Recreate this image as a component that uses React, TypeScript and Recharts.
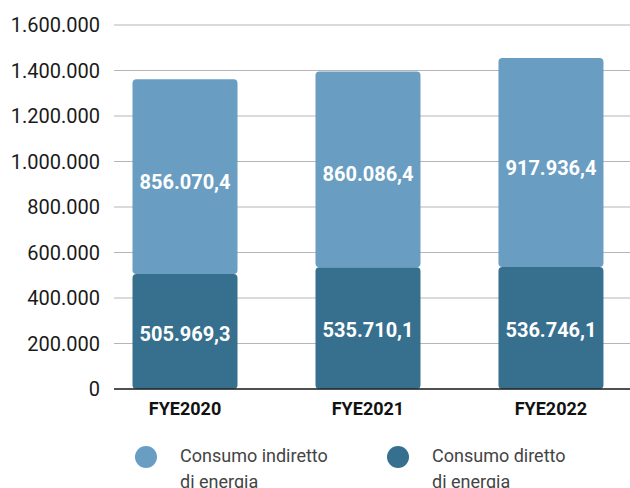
import React from 'react';
import { BarChart, Bar, XAxis, YAxis, CartesianGrid, LabelList } from 'recharts';

// dati
const years = ['FYE2020', 'FYE2021', 'FYE2022'];
const consumoDiretto = [505969.3, 535710.1, 536746.1];
const consumoIndiretto = [856070.4, 860086.4, 917936.4];
const yTicks = [0, 200000, 400000, 600000, 800000, 1000000, 1200000, 1400000, 1600000];

const series = [
  { key: 'indiretto', label: ['Consumo indiretto', 'di energia'], color: '#699dc2' },
  { key: 'diretto', label: ['Consumo diretto', 'di energia'], color: '#37708e' },
];

const data = years.map((y, i) => ({
  idx: i,
  name: y,
  diretto: consumoDiretto[i],
  indiretto: consumoIndiretto[i],
}));

// formato italiano: 1.234.567,8
const fmtInt = (v: number) => Math.round(v).toString().replace(/\B(?=(\d{3})+(?!\d))/g, '.');
const fmtDec = (v: number) => {
  const [a, b] = v.toFixed(1).split('.');
  return fmtInt(Number(a)) + ',' + b;
};

const FONT = 'Roboto, sans-serif';

const Legenda: React.FC = () => (
  <>
    {series.map((s, i) => (
      <div
        key={s.key}
        style={{
          position: 'absolute',
          left: i === 0 ? 135 : 387,
          top: 443,
          display: 'flex',
          alignItems: 'flex-start',
          fontFamily: FONT,
          fontSize: 18,
          lineHeight: '26px',
          color: '#444',
        }}
      >
        <div style={{ width: 22, height: 22, borderRadius: '50%', background: s.color, marginTop: 3 }} />
        <div style={{ marginLeft: 23 }}>
          {s.label.map(l => (
            <div key={l}>{l}</div>
          ))}
        </div>
      </div>
    ))}
  </>
);

export default function App() {
  return (
    <div style={{ position: 'fixed', left: 0, top: 0, width: 630, height: 488, background: '#fff', overflow: 'hidden' }}>
      <BarChart
        width={630}
        height={488}
        data={data}
        margin={{ top: 25, right: 0, left: 0, bottom: 59 }}
        style={{ fontFamily: FONT }}
      >
        <CartesianGrid vertical={false} stroke="#b5b5b5" strokeWidth={1} />
        <XAxis
          type="number"
          dataKey="idx"
          domain={[-0.388, 2.432]}
          allowDataOverflow
          ticks={[0, 1, 2]}
          tickFormatter={(i: number) => years[i]}
          height={40}
          tickSize={0}
          tickMargin={13}
          axisLine={{ stroke: '#222', strokeWidth: 1.5 }}
          tick={{ fill: '#111', fontSize: 18, fontWeight: 700 }}
        />
        <YAxis
          domain={[0, 1600000]}
          ticks={yTicks}
          width={114}
          tickSize={0}
          tickMargin={14}
          axisLine={false}
          tickFormatter={fmtInt}
          tick={{ fill: '#1a1a1a', fontSize: 20 }}
        />
        <Bar dataKey="diretto" stackId="a" fill={series[1].color} barSize={105} radius={4} isAnimationActive={false}>
          <LabelList
            dataKey="diretto"
            position="center"
            formatter={(v: any) => fmtDec(Number(v))}
            fill="#fff"
            fontSize={20}
            fontWeight={700}
            dy={2}
          />
        </Bar>
        <Bar dataKey="indiretto" stackId="a" fill={series[0].color} barSize={105} radius={4} isAnimationActive={false}>
          <LabelList
            dataKey="indiretto"
            position="center"
            formatter={(v: any) => fmtDec(Number(v))}
            fill="#fff"
            fontSize={20}
            fontWeight={700}
            dy={5}
          />
        </Bar>
      </BarChart>
      <Legenda />
    </div>
  );
}
